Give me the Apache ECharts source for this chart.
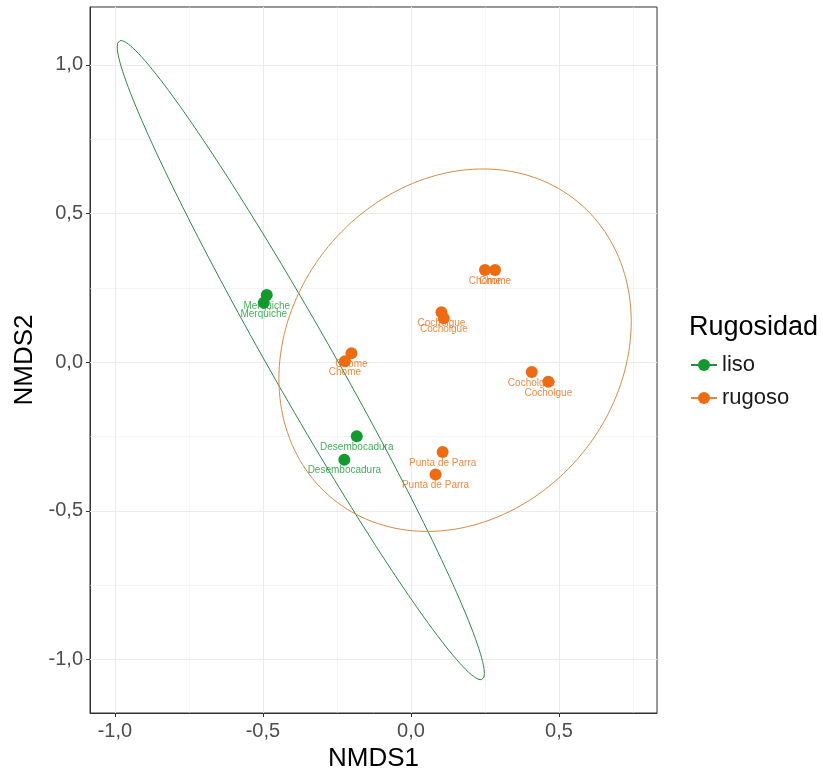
<!DOCTYPE html>
<html>
<head>
<meta charset="utf-8">
<script src="https://cdn.jsdelivr.net/npm/echarts@6/dist/echarts.min.js"></script>
<style>
  html, body { margin: 0; padding: 0; background: #ffffff; }
  #chart { width: 823px; height: 777px; }
</style>
</head>
<body>
<div id="chart"></div>
<script>
// NMDS site scores
const sites = [
  'Merquiche', 'Merquiche', 'Desembocadura', 'Desembocadura',
  'Chome', 'Chome', 'Chome', 'Chome',
  'Cocholgue', 'Cocholgue', 'Cocholgue', 'Cocholgue',
  'Punta de Parra', 'Punta de Parra'
];
const rugosidad = [
  'liso', 'liso', 'liso', 'liso',
  'rugoso', 'rugoso', 'rugoso', 'rugoso',
  'rugoso', 'rugoso', 'rugoso', 'rugoso',
  'rugoso', 'rugoso'
];
const nmds1 = [-0.487, -0.497, -0.183, -0.225, -0.201, -0.223, 0.250, 0.284, 0.103, 0.111, 0.408, 0.464, 0.107, 0.083];
const nmds2 = [0.226, 0.200, -0.249, -0.328, 0.030, 0.003, 0.310, 0.310, 0.168, 0.148, -0.033, -0.066, -0.302, -0.378];

// group ellipses: centre plus the two axis vectors (cos / sin terms), NMDS units
const groups = ['liso', 'rugoso'];
const ellipseCentre = [[-0.372, 0.007], [0.149, 0.0405]];
const ellipseCos = [[0.620, -1.054], [0.595, 0.0963]];
const ellipseSin = [[0.000, 0.213], [0.000, 0.602]];

// axis ticks and grid
const xTicks = [-1.0, -0.5, 0.0, 0.5];
const yTicks = [-1.0, -0.5, 0.0, 0.5, 1.0];
const xMinor = [-0.75, -0.25, 0.25, 0.75];
const yMinor = [-0.75, -0.25, 0.25, 0.75];

const pointColor = { liso: '#139a2f', rugoso: '#ee6b12' };
const pathColor = { liso: '#2b8a47', rugoso: '#d88a47' };
const FONT = '"Liberation Sans", Arial, sans-serif';

function ellipsePath(g) {
  const c = ellipseCentre[g], u = ellipseCos[g], v = ellipseSin[g];
  const pts = [];
  const n = 180;
  for (let i = 0; i <= n; i++) {
    const t = (2 * Math.PI * i) / n;
    pts.push([c[0] + u[0] * Math.cos(t) + v[0] * Math.sin(t),
              c[1] + u[1] * Math.cos(t) + v[1] * Math.sin(t)]);
  }
  return pts;
}

const fmt = v => v.toFixed(1).replace('.', ',');

const gridLine = (axis, values, width) => values.map(v => ({
  [axis]: v, lineStyle: { color: '#ebebeb', width: width, type: 'solid' }
}));

const series = [];

// ellipse paths (first, so the legend uses their line + dot icon)
groups.forEach((g, gi) => {
  series.push({
    name: g,
    type: 'line',
    data: ellipsePath(gi),
    showSymbol: false,
    symbol: 'circle',
    symbolSize: 12,
    smooth: false,
    silent: true,
    z: 10,
    itemStyle: { color: pointColor[g] },
    lineStyle: { color: pathColor[g], width: 1 }
  });
});

// background grid
series.push({
  name: 'grid',
  type: 'scatter',
  data: [],
  silent: true,
  z: 1,
  markLine: {
    z: 1,
    silent: true,
    symbol: ['none', 'none'],
    label: { show: false },
    emphasis: { disabled: true },
    animation: false,
    data: [].concat(
      gridLine('xAxis', xMinor, 0.5),
      gridLine('yAxis', yMinor, 0.5),
      gridLine('xAxis', xTicks, 1),
      gridLine('yAxis', yTicks, 1)
    )
  }
});

// site labels (below the points)
series.push({
  name: 'etiquetas',
  type: 'scatter',
  symbolSize: 0,
  silent: true,
  z: 11,
  data: sites.map((s, i) => ({
    value: [nmds1[i], nmds2[i]],
    name: s,
    label: { color: pointColor[rugosidad[i]] }
  })),
  label: {
    show: true,
    position: 'inside',
    offset: [0, 11],
    formatter: p => p.name,
    fontSize: 10,
    fontFamily: FONT,
    opacity: 0.8
  }
});

// site points
groups.forEach(g => {
  series.push({
    name: g,
    type: 'scatter',
    symbol: 'circle',
    symbolSize: 12,
    z: 12,
    itemStyle: { color: pointColor[g], opacity: 1 },
    data: nmds1.map((x, i) => [x, nmds2[i], i]).filter(d => rugosidad[d[2]] === g).map(d => [d[0], d[1]])
  });
});

const axisCommon = {
  type: 'value',
  axisLine: { show: true, onZero: false, lineStyle: { color: '#333333', width: 1 } },
  splitLine: { show: false },
  nameLocation: 'middle',
  nameTextStyle: { fontSize: 26, color: '#000000', fontFamily: FONT }
};

const option = {
  animation: false,
  backgroundColor: '#ffffff',
  textStyle: { fontFamily: FONT },
  title: {
    text: 'Rugosidad',
    left: 684,
    top: 309,
    textStyle: { fontSize: 27, fontWeight: 'normal', color: '#000000', fontFamily: FONT }
  },
  legend: {
    data: groups,
    orient: 'vertical',
    left: 685,
    top: 349,
    itemWidth: 26,
    itemHeight: 15,
    itemGap: 11,
    selectedMode: false,
    textStyle: { fontSize: 22, color: '#1a1a1a', fontFamily: FONT }
  },
  grid: {
    left: 90, right: 166, top: 7, bottom: 64,
    show: true, borderColor: '#333333', borderWidth: 1,
    containLabel: false
  },
  xAxis: Object.assign({}, axisCommon, {
    min: -1.084, max: 0.831,
    name: 'NMDS1',
    nameGap: 32,
    axisTick: { show: true, customValues: xTicks, length: 4, lineStyle: { color: '#333333' } },
    axisLabel: { customValues: xTicks, formatter: fmt, fontSize: 20, color: '#4d4d4d', margin: 8, fontFamily: FONT }
  }),
  yAxis: Object.assign({}, axisCommon, {
    min: -1.18, max: 1.195,
    name: 'NMDS2',
    nameGap: 41,
    axisTick: { show: true, customValues: yTicks, length: 4, lineStyle: { color: '#333333' } },
    axisLabel: { customValues: yTicks, formatter: fmt, fontSize: 20, color: '#4d4d4d', margin: 7, fontFamily: FONT }
  }),
  series: series
};

const chart = echarts.init(document.getElementById('chart'), null, { renderer: 'canvas' });
chart.setOption(option);
</script>
</body>
</html>
